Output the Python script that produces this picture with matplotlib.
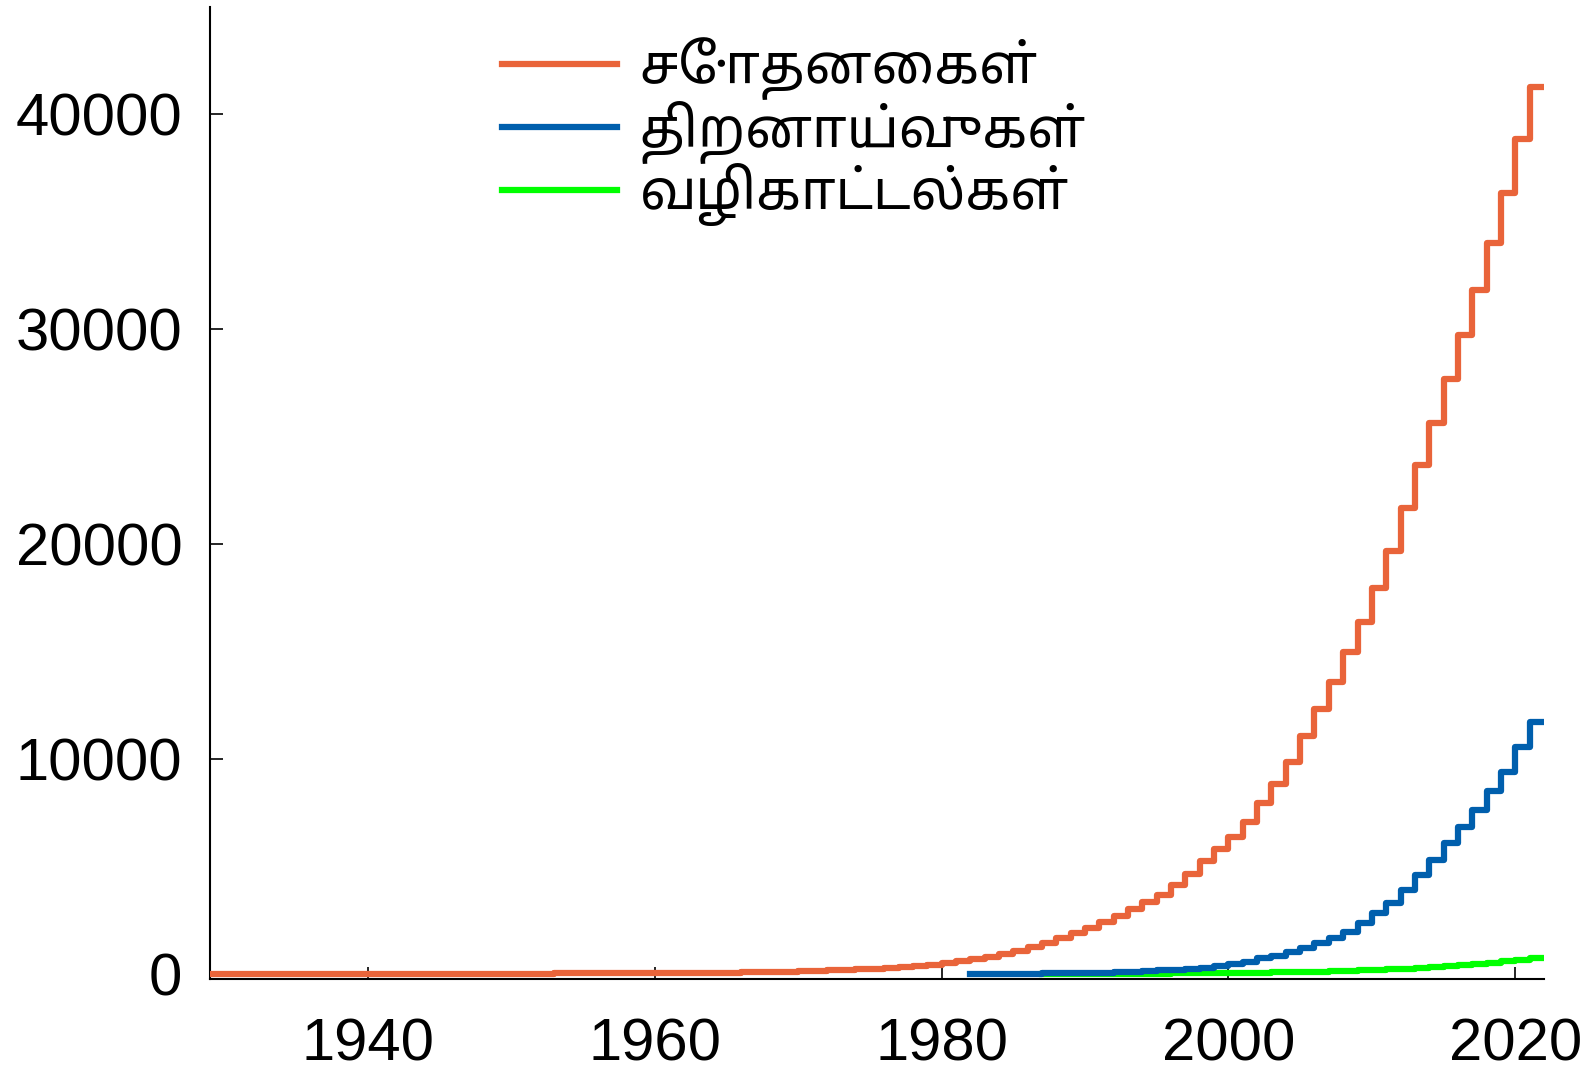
from matplotlib import rcParams
import matplotlib
matplotlib.use('Agg')
import matplotlib.pyplot as plt
from matplotlib import font_manager, ft2font

# Look for an installed font that has Tamil glyphs
tamil_fonts = []
for f in font_manager.fontManager.ttflist:
    try:
        cmap = ft2font.FT2Font(f.fname).get_charmap()
    except Exception:
        continue
    if 0x0B95 in cmap and f.name not in tamil_fonts:
        tamil_fonts.append(f.name)

preferred = ['Noto Sans Tamil', 'Noto Sans Tamil UI', 'Lohit Tamil', 'Hind Madurai',
             'Mukta Malar', 'Catamaran', 'FreeSans']
tamil_font = next((p for p in preferred if p in tamil_fonts), 'FreeSans')

rcParams['font.family'] = ['Liberation Sans', tamil_font, 'DejaVu Sans']

# Data: cumulative counts per year
orange_years = list(range(1929, 2022))
orange_vals = [5, 6, 7, 8, 9, 10, 11, 12, 13, 14, 15,                    # 1929-1939
               16, 17, 18, 19, 20, 21, 22, 23, 25, 27,                   # 1940s
               29, 31, 33, 35, 38, 41, 44, 47, 50, 54,                   # 1950s
               58, 62, 67, 72, 76, 80, 90, 100, 112, 126,                # 1960s
               142, 160, 180, 205, 232, 262, 296, 330, 368, 430,         # 1970s
               510, 603, 712, 820, 944, 1099, 1255, 1471, 1673, 1906,    # 1980s
               2139, 2433, 2712, 3023, 3364, 3705, 4130, 4640, 5250, 5815,
               6403, 7101, 7955, 8853, 9892, 11087, 12327, 13614, 15010, 16405,
               17957, 19693, 21679, 23694, 25663, 27680, 29720, 31835, 34007, 36333,
               38860, 41294]

blue_years = list(range(1982, 2022))
blue_vals = [5, 10, 15, 22, 30, 38, 47, 57,
             68, 80, 100, 125, 150, 175, 205, 245, 300, 380,
             479, 588, 743, 867, 1053, 1208, 1441, 1673, 1983, 2371,
             2836, 3302, 3922, 4620, 5318, 6093, 6868, 7644, 8528, 9427,
             10559, 11722]

green_years = list(range(1987, 2022))
green_vals = [2, 3, 4,
              5, 10, 15, 20, 25, 30, 35, 40, 45, 50,
              55, 65, 75, 85, 95, 105, 120, 135, 155, 175,
              200, 230, 265, 300, 340, 385, 430, 480, 535, 595,
              665, 740]

labels = ['சோதனைகள்', 'திறனாய்வுகள்', 'வழிகாட்டல்கள்']
colors = ['#e9643a', '#005fad', '#00ff00']

xticks = [1940, 1960, 1980, 2000, 2020]
yticks = [0, 10000, 20000, 30000, 40000]


def main():
    fig = plt.figure(figsize=(15.95, 10.81), dpi=100)
    ax = fig.add_axes([0.1317, 0.0944, 0.8363, 0.8991])

    series = [(orange_years, orange_vals), (blue_years, blue_vals), (green_years, green_vals)]
    zorders = [3, 3, 2.5]   # green sits under blue where they overlap
    for (xs, ys), label, color, z in zip(series, labels, colors, zorders):
        # extend the last step to the end of its year
        x = xs + [xs[-1] + 1]
        y = ys + [ys[-1]]
        ax.step(x, y, where='post', color=color, lw=4.5, label=label, zorder=z)

    ax.set_xlim(1929, 2022)
    ax.set_ylim(-220, 45000)
    ax.set_xticks(xticks)
    ax.set_yticks(yticks)
    ax.tick_params(direction='in', length=9, width=1.2, labelsize=43)
    ax.tick_params(axis='x', pad=28)
    ax.tick_params(axis='y', pad=20)

    ax.spines['top'].set_visible(False)
    ax.spines['right'].set_visible(False)
    ax.spines['left'].set_linewidth(1.5)
    ax.spines['bottom'].set_linewidth(1.5)

    ax.legend(loc='upper left', bbox_to_anchor=(0.219, 0.969), frameon=False,
              fontsize=39, handlelength=2.12, handletextpad=0.42,
              labelspacing=0.0, borderpad=0, borderaxespad=0)

    fig.savefig('out.png', dpi=100)


if __name__ == '__main__':
    main()
